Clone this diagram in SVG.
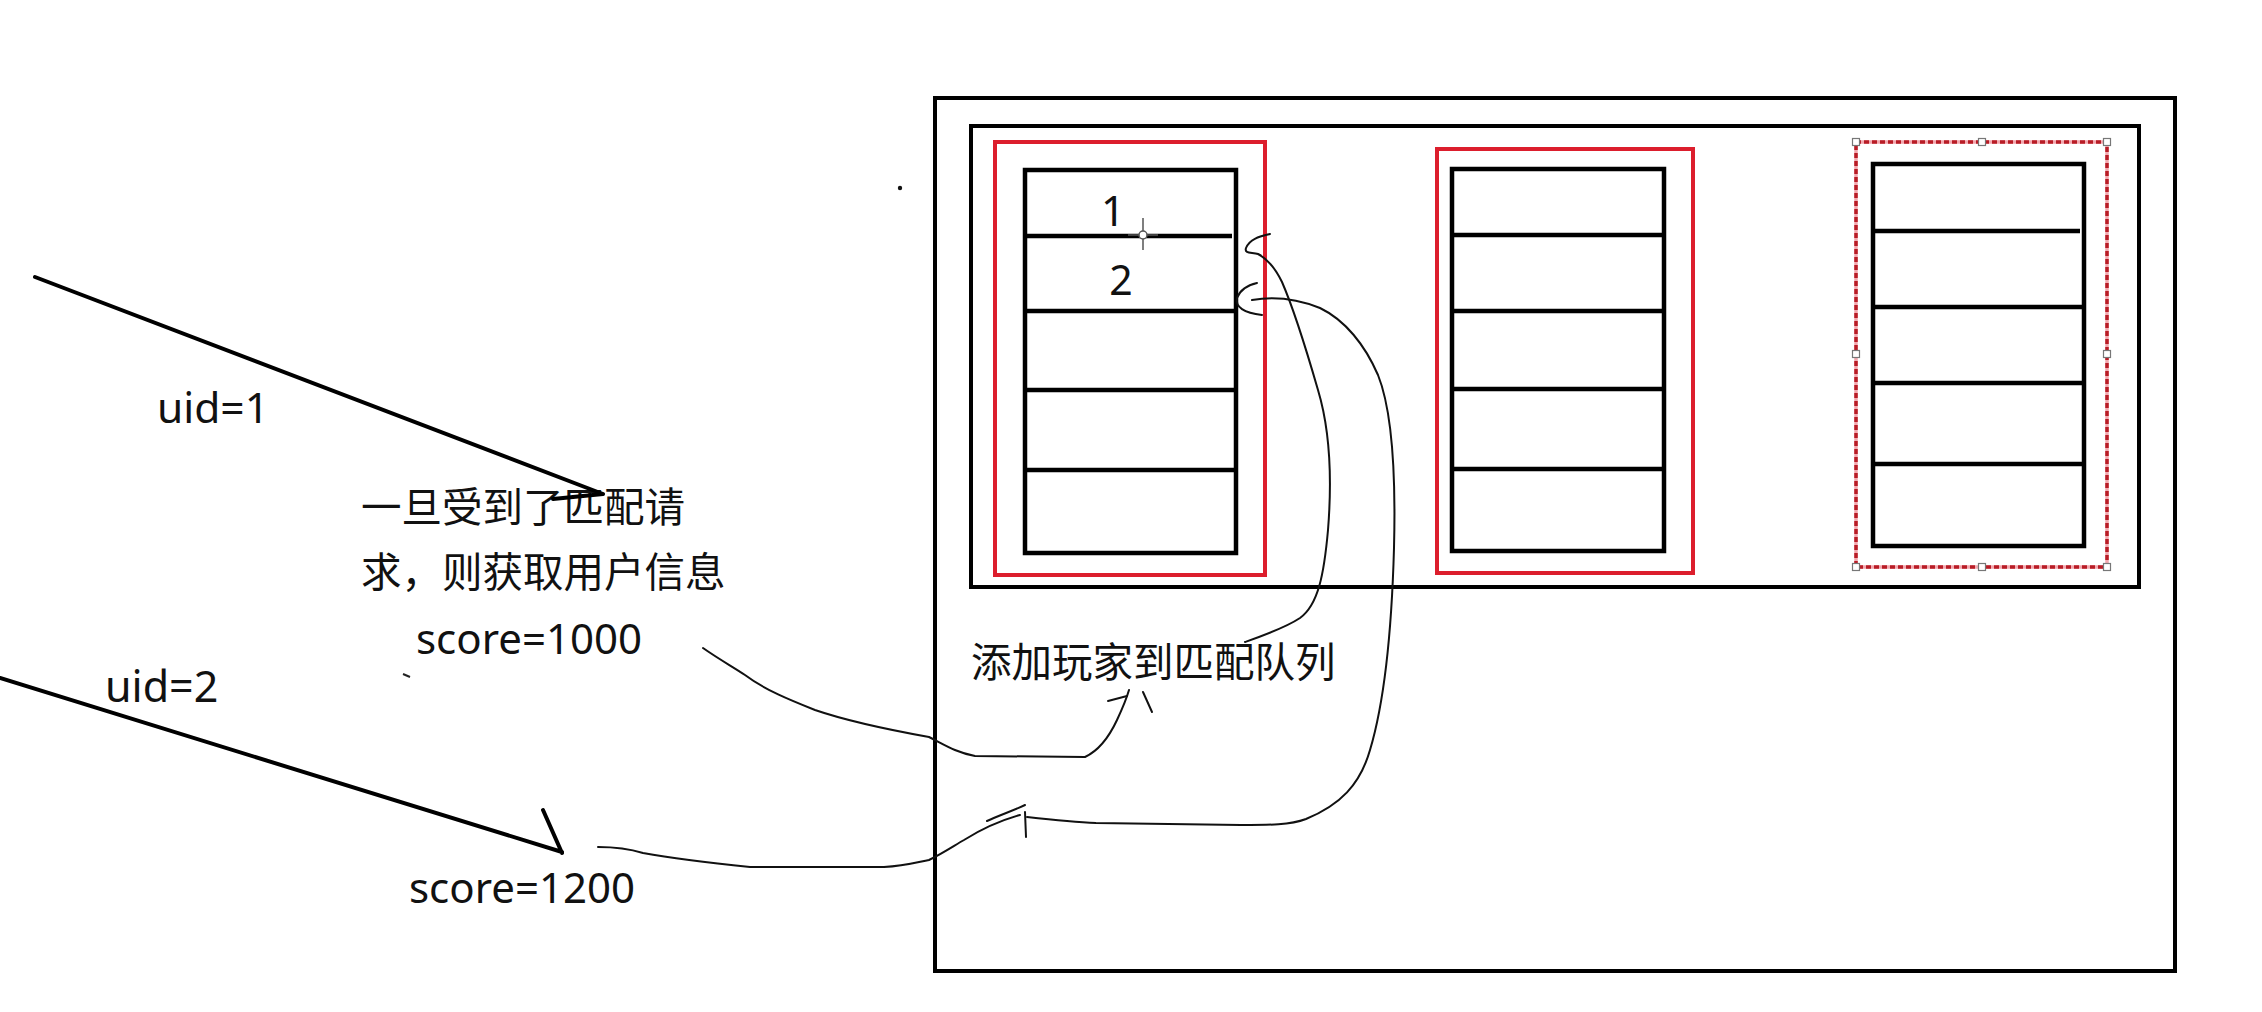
<svg xmlns="http://www.w3.org/2000/svg" width="2262" height="1012" viewBox="0 0 2262 1012">
<style>
.frame{fill:none;stroke:#000;stroke-width:4}
.cell{fill:none;stroke:#000;stroke-width:4.5}
.row{stroke:#000;stroke-width:4.5}
.red{fill:none;stroke:#dc1e2d;stroke-width:4}
.ink{fill:none;stroke:#111;stroke-width:2;stroke-linecap:round;stroke-linejoin:round}
.bold{fill:none;stroke:#000;stroke-width:4;stroke-linecap:round}
.t{font-family:"Noto Sans","Noto Sans CJK SC",sans-serif;fill:#111}
.h{fill:#fff;stroke:#777;stroke-width:1.2}
</style>
<rect width="2262" height="1012" fill="#fff"/>
<g id="outer-frame"><rect class="frame" x="935" y="98" width="1240" height="873"/></g>
<g id="inner-frame"><rect class="frame" x="971" y="126" width="1168" height="461"/></g>
<g id="queue1">
<rect class="red" x="995" y="142" width="270" height="433"/>
<rect class="cell" x="1025" y="170" width="211" height="383"/>
<line class="row" x1="1025" y1="236" x2="1232" y2="236"/>
<line class="row" x1="1025" y1="311" x2="1236" y2="311"/>
<line class="row" x1="1025" y1="390" x2="1236" y2="390"/>
<line class="row" x1="1025" y1="470" x2="1236" y2="470"/>
<text class="t" x="1113" y="226" font-size="42" text-anchor="middle">1</text>
<text class="t" x="1121" y="295" font-size="41" text-anchor="middle">2</text>
</g>
<g id="queue2">
<rect class="red" x="1437" y="149" width="256" height="424"/>
<rect class="cell" x="1452" y="169" width="212" height="382"/>
<line class="row" x1="1452" y1="235" x2="1662" y2="235"/>
<line class="row" x1="1452" y1="311" x2="1664" y2="311"/>
<line class="row" x1="1452" y1="389" x2="1664" y2="389"/>
<line class="row" x1="1452" y1="469" x2="1664" y2="469"/>
</g>
<g id="queue3">
<rect x="1856" y="142" width="251" height="425" fill="none" stroke="#f2a7ae" stroke-width="3.5"/>
<rect x="1856" y="142" width="251" height="425" fill="none" stroke="#b81c26" stroke-width="3.5" stroke-dasharray="5 3"/>
<rect class="cell" x="1873" y="164" width="211" height="382"/>
<line class="row" x1="1873" y1="231" x2="2080" y2="231"/>
<line class="row" x1="1873" y1="307" x2="2084" y2="307"/>
<line class="row" x1="1873" y1="383" x2="2084" y2="383"/>
<line class="row" x1="1873" y1="464" x2="2084" y2="464"/>
<rect class="h" x="1852.5" y="138.5" width="7" height="7"/>
<rect class="h" x="1978.5" y="138.5" width="7" height="7"/>
<rect class="h" x="2103.5" y="138.5" width="7" height="7"/>
<rect class="h" x="1852.5" y="350.5" width="7" height="7"/>
<rect class="h" x="2103.5" y="350.5" width="7" height="7"/>
<rect class="h" x="1852.5" y="563.5" width="7" height="7"/>
<rect class="h" x="1978.5" y="563.5" width="7" height="7"/>
<rect class="h" x="2103.5" y="563.5" width="7" height="7"/>
</g>
<g id="labels">
<text class="t" x="157" y="423" font-size="42.5">uid=1</text>
<text class="t" x="105" y="702" font-size="43">uid=2</text>
<text class="t" x="361" y="522" font-size="40.5">一旦受到了匹配请</text>
<text class="t" x="361" y="587" font-size="40.5">求，则获取用户信息</text>
<text class="t" x="416" y="654" font-size="42">score=1000</text>
<text class="t" x="409" y="903" font-size="42">score=1200</text>
<text class="t" x="971" y="677" font-size="40.5">添加玩家到匹配队列</text>
</g>
<g id="connectors">
<path class="bold" d="M35,277 L603,494 M603,494 L553,499"/>
<path class="bold" d="M0,678 L562,852 M562,853 L543,810"/>
<path class="ink" d="M703,648 C720,660 735,668 745,675 C765,690 790,700 815,710 C850,722 890,730 929,737 C945,745 955,752 975,756 L1085,757 C1100,750 1110,735 1117,720 C1124,705 1127,697 1129,690"/>
<path class="ink" d="M1108,701 L1127,696 M1143,692 L1152,712"/>
<path class="ink" d="M598,847 C615,847 630,849 643,853 C670,858 700,862 750,867 L884,867 C905,866 918,862 929,860 C945,852 955,845 964,840 C980,830 995,822 1020,815"/>
<path class="ink" d="M987,821 C1000,815 1015,810 1025,805 M1025,812 L1026,837"/>
<path class="ink" d="M1027,817 C1055,820 1075,822 1096,823 L1241,825 C1270,825 1290,825 1306,819 C1340,805 1360,785 1370,750 C1385,700 1392,620 1394,548 C1396,470 1392,410 1378,375 C1365,345 1345,320 1320,308 C1300,300 1275,296 1252,300"/>
<path class="ink" d="M1257,283 C1248,285 1240,290 1237,298 C1235,307 1244,313 1262,315"/>
<path class="ink" d="M1270,234 C1262,236 1250,238 1246,248 C1244,254 1252,252 1258,254 C1266,258 1275,268 1282,282 C1292,305 1305,345 1318,390 C1330,430 1332,480 1328,530 C1324,575 1318,605 1300,618 C1285,628 1262,636 1245,642"/>
</g>
<g id="marks">
<circle cx="900" cy="188" r="2.2" fill="#111"/>
<path d="M403,674 L410,677" stroke="#222" stroke-width="2"/>
<path d="M1143,218 L1143,250 M1128,235 L1158,235" stroke="#555" stroke-width="1.5"/>
<circle cx="1143" cy="235" r="4" fill="#fff" stroke="#555" stroke-width="1.5"/>
</g>
</svg>
